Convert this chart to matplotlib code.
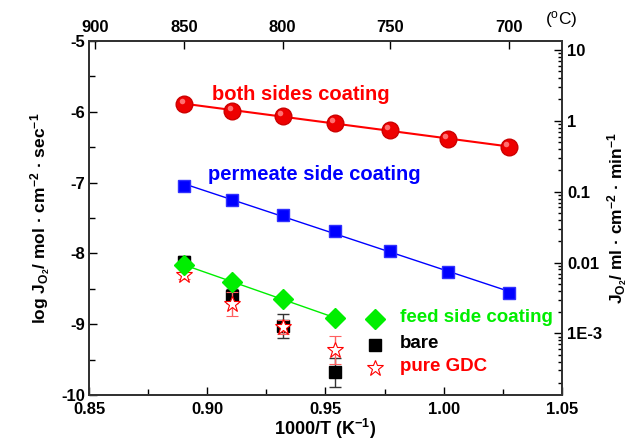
import numpy as np
import matplotlib
matplotlib.use("Agg")
import matplotlib.pyplot as plt

plt.rcParams['font.family'] = ['Liberation Sans', 'DejaVu Sans']
plt.rcParams['font.weight'] = 'bold'
plt.rcParams['mathtext.default'] = 'regular'

# temperatures (C) of measurement and 1000/T
temps_c = [850, 825, 800, 775, 750, 725, 700]
inv_t = [1000.0 / (t + 273.15) for t in temps_c]

# log J_O2 (mol cm-2 s-1)
both_sides = [-5.89, -5.99, -6.06, -6.16, -6.26, -6.38, -6.50]
permeate_side = [-7.05, -7.25, -7.46, -7.69, -7.96, -8.26, -8.56]
feed_side = [-8.16, -8.41, -8.64, -8.91]
bare = [-8.12, -8.60, -9.02, -9.68]
bare_err = [0.08, 0.10, 0.17, 0.20]
gdc = [-8.31, -8.71, -9.04, -9.36]
gdc_err = [0.05, 0.17, 0.10, 0.20]

top_ticks_c = [900, 850, 800, 750, 700]
right_ticks = [10, 1, 0.1, 0.01, 1e-3]
right_labels = ["10", "1", "0.1", "0.01", "1E-3"]
conv = 22.4 * 1000 * 60  # mol/s -> ml/min

fig = plt.figure(figsize=(6.32, 4.44), dpi=100)
ax = fig.add_axes([0.141, 0.110, 0.748, 0.798])

x4 = inv_t[:4]

# fitted lines
for xs, ys, c, lw in [(inv_t, both_sides, 'red', 1.5),
                      (inv_t, permeate_side, 'blue', 1.0),
                      (x4, feed_side, '#00ee00', 1.0)]:
    k, b = np.polyfit(xs, ys, 1)
    xx = np.array([xs[0], xs[-1]])
    ax.plot(xx, k * xx + b, color=c, lw=lw, zorder=2)

ax.errorbar(x4, bare, yerr=bare_err, fmt='s', color='black', ms=9,
            ecolor='#333333', elinewidth=1, capsize=4, zorder=3)
ax.errorbar(x4, gdc, yerr=gdc_err, fmt='*', mfc='white', mec='red', ms=12,
            mew=0.8, ecolor='#ff6060', elinewidth=1, capsize=4, zorder=4)
ax.plot(x4, feed_side, 'D', color='#00ee00', ms=10, zorder=5)
ax.plot(inv_t, permeate_side, 's', color='blue', mec='#3030ff', ms=9, zorder=5)
ax.plot(inv_t, both_sides, 'o', color='#ee0000', mec='#cc0000', ms=12, zorder=5)
ax.plot(np.array(inv_t) - 0.0012, np.array(both_sides) + 0.04, 'o',
        color='#ff7070', ms=4, mec='none', zorder=6)

ax.text(0.902, -5.76, "both sides coating", color='red', fontsize=14.5,
        fontweight='bold', va='center')
ax.text(0.9003, -6.89, "permeate side coating", color='blue', fontsize=14.5,
        fontweight='bold', va='center')

# legend-like labels
leg_x = 0.971
for y, txt, col in [(-8.91, "feed side coating", '#00ee00'),
                    (-9.27, "bare", 'black'),
                    (-9.59, "pure GDC", 'red')]:
    ax.text(leg_x + 0.0105, y, txt, color=col, fontsize=13.5, fontweight='bold',
            va='center')
ax.plot([leg_x], [-8.93], 'D', color='#00ee00', ms=10)
ax.plot([leg_x], [-9.29], 's', color='black', ms=9)
ax.plot([leg_x], [-9.61], '*', mfc='white', mec='red', ms=12, mew=0.8)

ax.set_xlim(0.85, 1.05)
ax.set_ylim(-10, -5)
ax.set_xticks([0.85, 0.90, 0.95, 1.00, 1.05])
ax.set_xticklabels(["0.85", "0.90", "0.95", "1.00", "1.05"], fontweight='bold')
ax.set_xticks(np.arange(0.875, 1.05, 0.05), minor=True)
ax.set_yticks([-10, -9, -8, -7, -6, -5])
ax.set_yticklabels(["-10", "-9", "-8", "-7", "-6", "-5"], fontweight='bold')
ax.set_yticks(np.arange(-9.5, -5, 1.0), minor=True)
ax.tick_params(which='both', direction='in', labelsize=12, width=1)
ax.tick_params(which='major', length=6)
ax.tick_params(which='minor', length=4)
ax.tick_params(axis='x', pad=5)
ax.tick_params(axis='y', right=False, pad=3)
for s in ax.spines.values():
    s.set_linewidth(1.2)
    s.set_color('#333333')

ax.set_xlabel("1000/T (K$^{-1}$)", fontsize=13, fontweight='bold', labelpad=0)
ax.set_ylabel("log J$_{O_2}$/ mol · cm$^{-2}$ · sec$^{-1}$", fontsize=12.5,
              fontweight='bold', labelpad=6)

# top temperature axis
axt = ax.twiny()
axt.set_xlim(ax.get_xlim())
axt.set_xticks([1000.0 / (t + 273.15) for t in top_ticks_c])
axt.set_xticklabels([str(t) for t in top_ticks_c], fontweight='bold')
axt.tick_params(direction='in', labelsize=12, length=6, width=1, pad=4)
fig.text(0.862, 0.955, "($^{o}$C)", fontsize=12.5, fontweight='normal',
         ha='left', va='center')

# right flux axis (log)
axr = ax.twinx()
axr.set_yscale('log')
axr.set_ylim(10 ** (-10) * conv, 10 ** (-5) * conv)
axr.set_yticks(right_ticks)
axr.set_yticklabels(right_labels, fontweight='bold')
axr.tick_params(which='both', direction='in', labelsize=12, width=1, pad=4)
axr.tick_params(which='major', length=6)
axr.tick_params(which='minor', length=3)
axr.set_ylabel("J$_{O_2}$/ ml · cm$^{-2}$ · min$^{-1}$", fontsize=12.5,
               fontweight='bold', labelpad=2)
for a in (axt, axr):
    for s in a.spines.values():
        s.set_linewidth(1.2)
        s.set_color('#333333')

fig.savefig("out.png", dpi=100)
